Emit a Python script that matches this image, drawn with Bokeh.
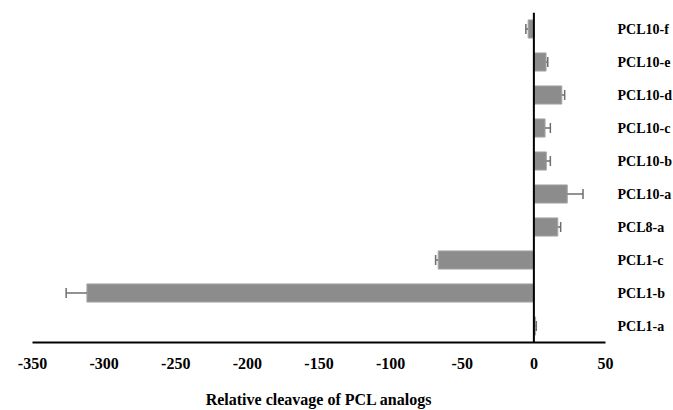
from bokeh.plotting import figure
from bokeh.models import ColumnDataSource, Span, FactorRange, Range1d, FixedTicker
from bokeh.transform import dodge
from bokeh.embed import file_html
from bokeh.resources import INLINE

categories = ["PCL1-a", "PCL1-b", "PCL1-c", "PCL8-a", "PCL10-a",
              "PCL10-b", "PCL10-c", "PCL10-d", "PCL10-e", "PCL10-f"]
values = [1.2, -312.0, -66.8, 16.7, 23.3, 8.7, 7.8, 19.5, 8.5, -4.0]
errors = [0.5, 14.5, 1.8, 2.0, 11.0, 2.8, 3.7, 2.0, 1.2, 1.6]
x_ticks = [-350, -300, -250, -200, -150, -100, -50, 0, 50]
x_title = "Relative cleavage of PCL analogs"

ends = [v + e if v >= 0 else v - e for v, e in zip(values, errors)]
src = ColumnDataSource(dict(cat=categories, val=values, end=ends))

p = figure(frame_width=573, frame_height=330,
           y_range=FactorRange(*categories, range_padding=0),
           x_range=Range1d(-350, 50),
           y_axis_location="right",
           output_backend="svg", toolbar_location=None,
           min_border_left=32, min_border_top=12, min_border_right=0,
           min_border_bottom=0, background_fill_color="white",
           border_fill_color="white")
p.outline_line_color = None
p.grid.visible = False

p.hbar(y="cat", left=0, right="val", height=0.55, source=src,
       fill_color="#8c8c8c", line_color="#a6a6a6", line_width=1)
p.segment(x0="val", y0="cat", x1="end", y1="cat", source=src,
          line_color="#6e6e6e", line_width=1.5)
p.segment(x0="end", y0=dodge("cat", -0.15, range=p.y_range),
          x1="end", y1=dodge("cat", 0.15, range=p.y_range), source=src,
          line_color="#6e6e6e", line_width=1.5)

p.add_layout(Span(location=0, dimension="height", line_color="black", line_width=2))

xa = p.xaxis[0]
xa.ticker = FixedTicker(ticks=x_ticks)
xa.major_label_overrides = {t: str(t) for t in x_ticks}
xa.axis_line_width = 2
xa.axis_line_color = "black"
xa.major_tick_line_color = None
xa.minor_tick_line_color = None
xa.major_label_standoff = 9
xa.major_label_text_font = "Liberation Serif"
xa.major_label_text_font_style = "bold"
xa.major_label_text_font_size = "16px"
xa.major_label_text_color = "black"
xa.axis_label = x_title
xa.axis_label_text_font = "Liberation Serif"
xa.axis_label_text_font_style = "bold"
xa.axis_label_text_font_size = "16px"
xa.axis_label_text_color = "black"
xa.axis_label_standoff = 19

ya = p.yaxis[0]
ya.axis_line_color = None
ya.major_tick_line_color = None
ya.minor_tick_line_color = None
ya.major_label_standoff = 6
ya.major_label_text_font = "Liberation Serif"
ya.major_label_text_font_style = "bold"
ya.major_label_text_font_size = "14px"
ya.major_label_text_color = "black"

open("out.html", "w").write(file_html(p, INLINE))
